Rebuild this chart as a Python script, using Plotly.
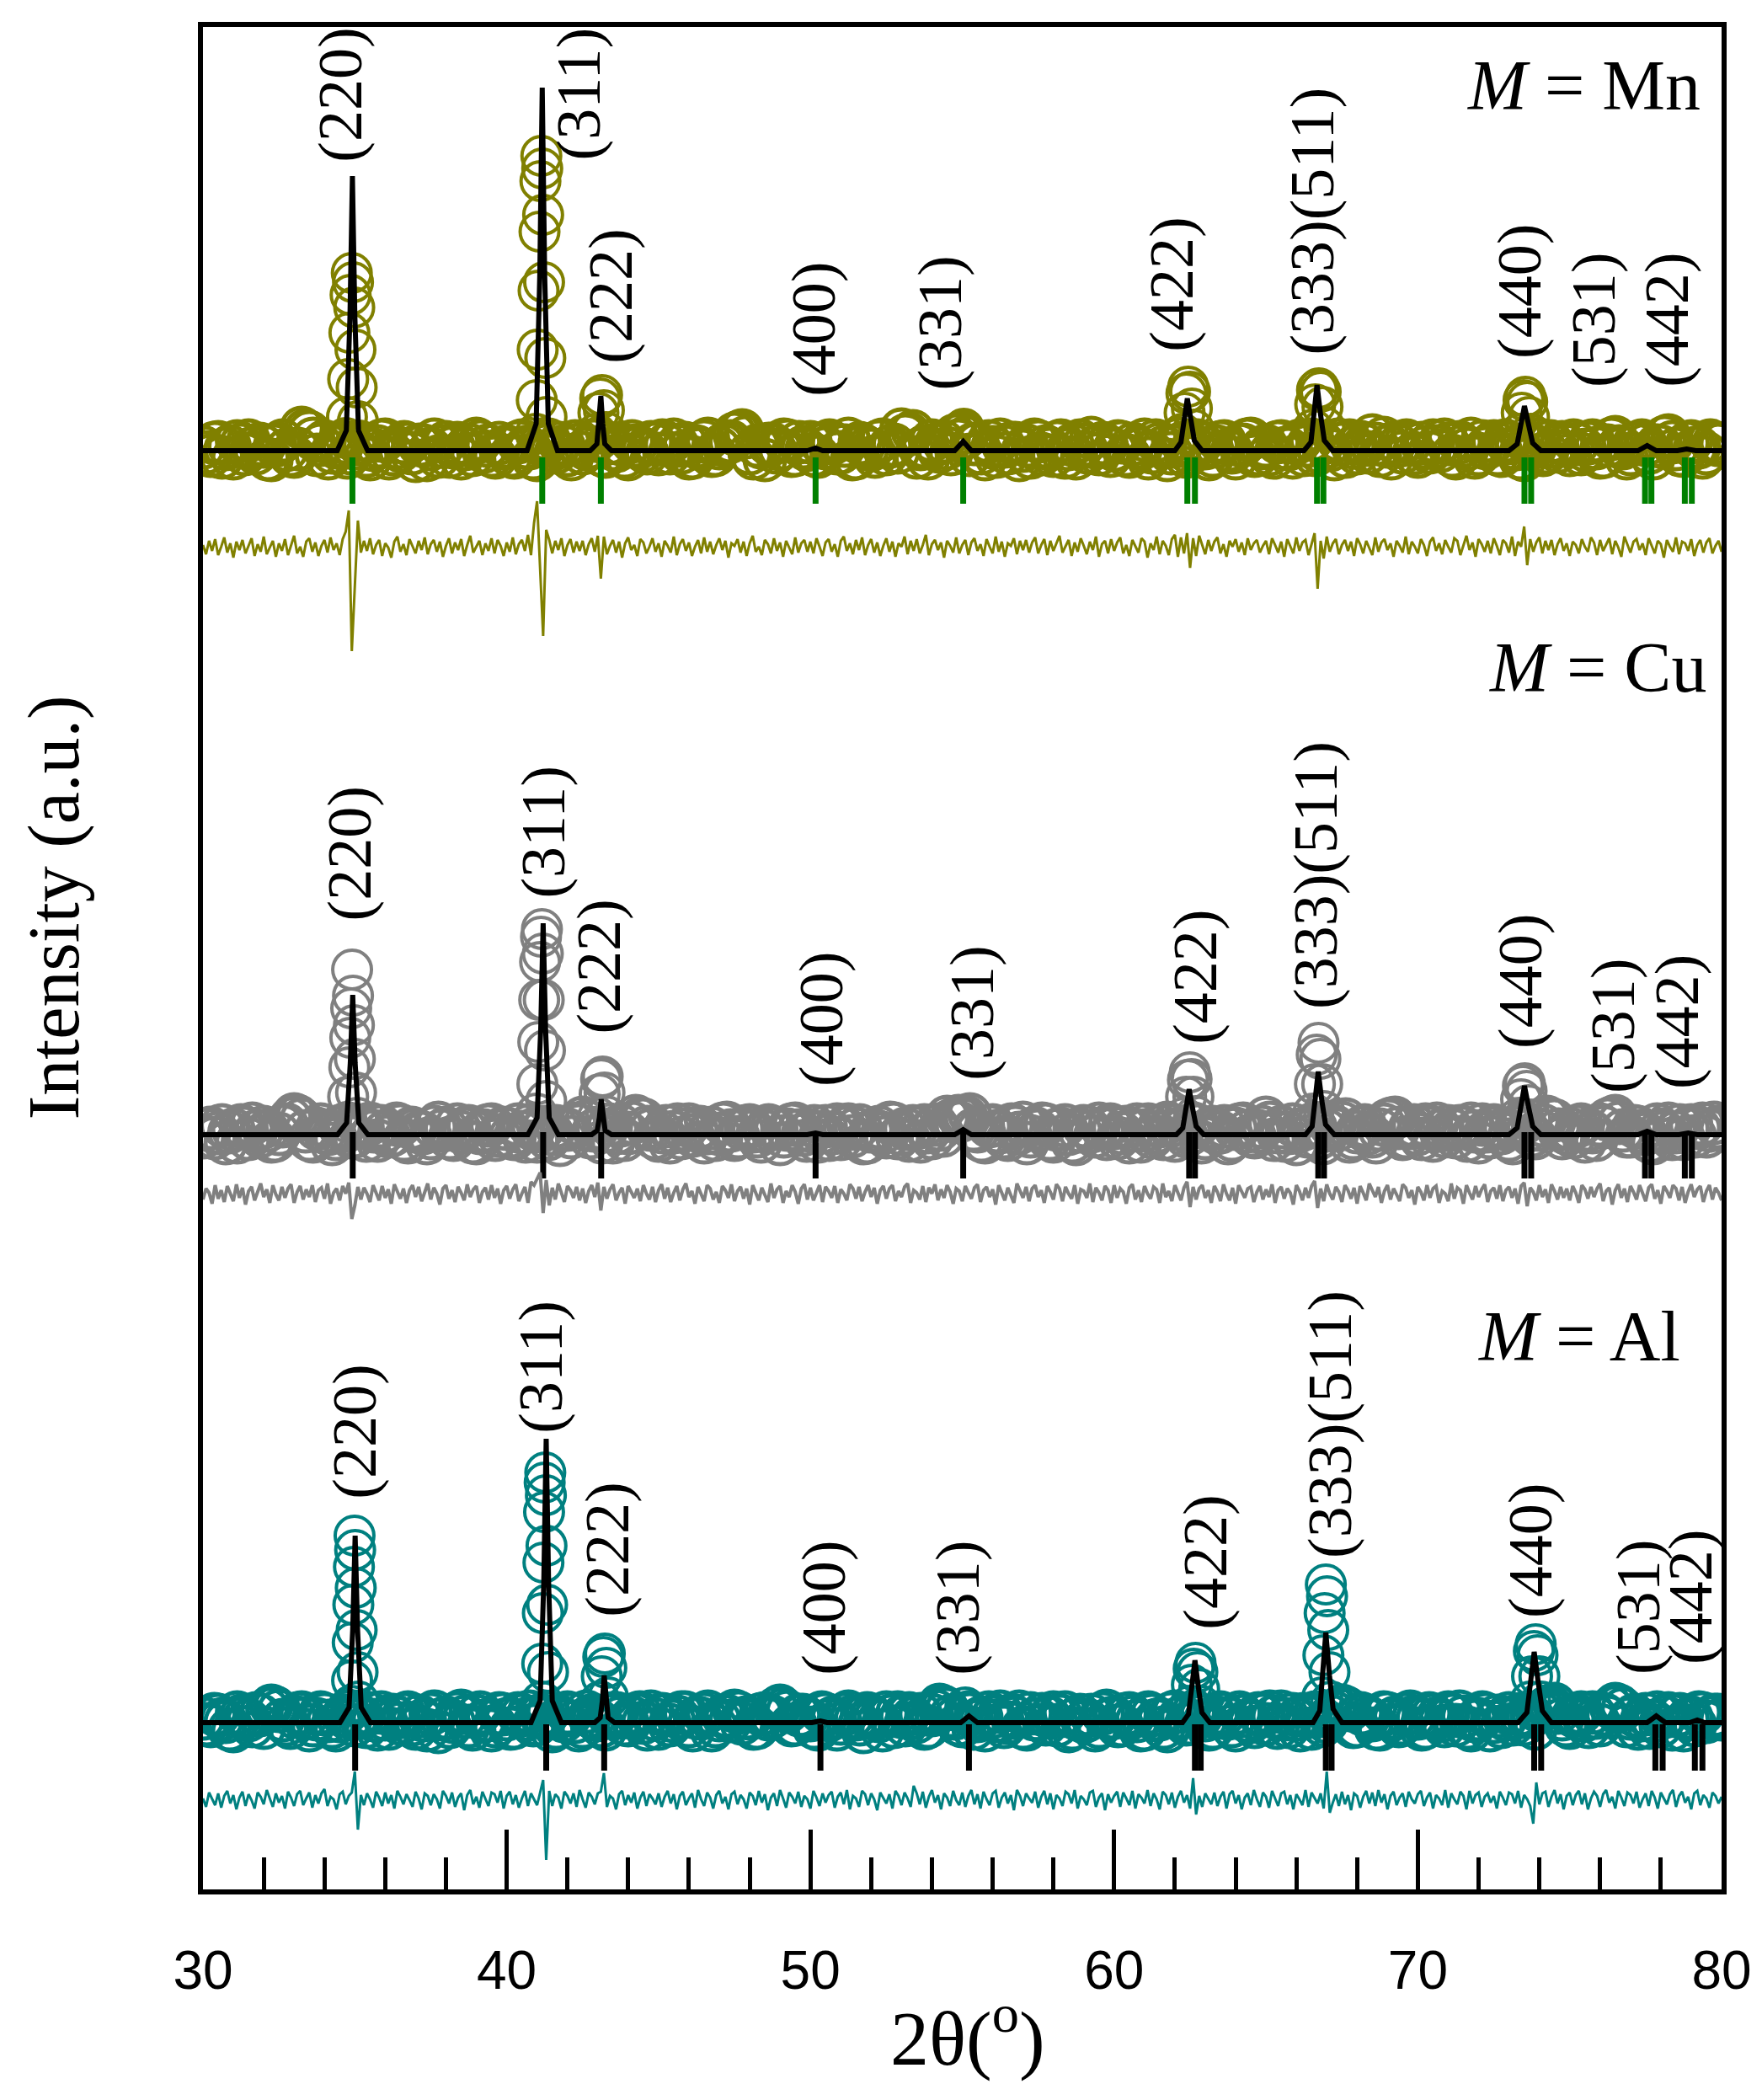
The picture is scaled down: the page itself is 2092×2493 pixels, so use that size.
import numpy as np
import plotly.graph_objects as go

OLIVE = "#808000"
GRAY = "#808080"
TEAL = "#008080"
GREEN = "#008000"

SAMPLES = ["Mn", "Cu", "Al"]
HKL = ["(220)", "(311)", "(222)", "(400)", "(331)", "(422)", "(333)(511)", "(440)", "(531)", "(442)"]

# Bragg positions (2theta, deg); doublets are Ka1/Ka2
TICKS_MN = [34.92, 41.17, 43.10, 50.17, 55.03, 62.41, 62.66, 66.68, 66.89, 73.51, 73.73, 77.48, 77.69, 78.79, 79.02]
TICKS_CU = [34.93, 41.20, 43.11, 50.17, 55.03, 62.47, 62.66, 66.72, 66.91, 73.51, 73.73, 77.48, 77.69, 78.79, 79.02]
TICKS_AL = [35.01, 41.30, 43.21, 50.33, 55.22, 62.66, 62.85, 66.97, 67.16, 73.83, 74.06, 77.82, 78.06, 79.12, 79.37]

# calculated profile (a.u. above the panel baseline)
CALC_X_MN = [30.0,
             34.42, 34.72, 34.84, 34.92, 35.00, 35.12, 35.42,
             40.67, 40.97, 41.09, 41.17, 41.25, 41.37, 41.67,
             42.75, 42.97, 43.04, 43.10, 43.16, 43.23, 43.45,
             49.90, 50.17, 50.40,
             54.75, 55.03, 55.30,
             62.00, 62.20, 62.29, 62.41, 62.53, 62.64, 62.90,
             66.25, 66.48, 66.57, 66.68, 66.80, 66.92, 67.20,
             73.00, 73.27, 73.37, 73.51, 73.65, 73.78, 74.05,
             77.25, 77.55, 77.85,
             78.55, 78.85, 79.15,
             80.0]
CALC_Y_MN = [0,
             0, 24, 160, 326, 160, 24, 0,
             0, 32, 210, 431, 210, 32, 0,
             0, 8, 32, 65, 32, 8, 0,
             0, 3, 0,
             0, 11, 0,
             0, 10, 34, 62, 36, 12, 0,
             0, 10, 40, 78, 42, 12, 0,
             0, 8, 28, 53, 30, 9, 0,
             0, 6, 0,
             0, 2, 0,
             0]

CALC_X_CU = [30.0,
             34.43, 34.73, 34.85, 34.93, 35.01, 35.13, 35.43,
             40.70, 41.00, 41.12, 41.20, 41.28, 41.40, 41.70,
             42.80, 42.98, 43.05, 43.11, 43.17, 43.24, 43.45,
             49.90, 50.17, 50.40,
             54.75, 55.03, 55.30,
             62.05, 62.26, 62.35, 62.47, 62.59, 62.70, 62.95,
             66.30, 66.52, 66.61, 66.72, 66.84, 66.96, 67.25,
             73.00, 73.27, 73.37, 73.51, 73.65, 73.78, 74.05,
             77.25, 77.55, 77.85,
             78.60, 78.90, 79.20,
             80.0]
CALC_Y_CU = [0,
             0, 14, 85, 166, 85, 14, 0,
             0, 20, 125, 251, 125, 20, 0,
             0, 5, 20, 42, 20, 5, 0,
             0, 2, 0,
             0, 6, 0,
             0, 8, 28, 54, 30, 10, 0,
             0, 10, 38, 75, 40, 12, 0,
             0, 8, 30, 58, 32, 10, 0,
             0, 4, 0,
             0, 2, 0,
             0]

CALC_X_AL = [30.0,
             34.51, 34.81, 34.93, 35.01, 35.09, 35.21, 35.51,
             40.80, 41.10, 41.22, 41.30, 41.38, 41.50, 41.80,
             42.90, 43.08, 43.15, 43.21, 43.27, 43.34, 43.55,
             50.05, 50.33, 50.55,
             54.95, 55.22, 55.50,
             62.25, 62.45, 62.54, 62.66, 62.78, 62.89, 63.15,
             66.55, 66.77, 66.86, 66.97, 67.09, 67.21, 67.50,
             73.30, 73.59, 73.69, 73.83, 73.97, 74.10, 74.40,
             77.55, 77.85, 78.15,
             78.95, 79.20, 79.45,
             80.0]
CALC_Y_AL = [0,
             0, 18, 110, 222, 110, 18, 0,
             0, 26, 165, 337, 165, 26, 0,
             0, 6, 26, 56, 26, 6, 0,
             0, 2, 0,
             0, 8, 0,
             0, 10, 38, 74, 40, 12, 0,
             0, 14, 52, 107, 56, 16, 0,
             0, 12, 42, 84, 46, 14, 0,
             0, 8, 0,
             0, 3, 0,
             0]

# observed background points, 30-80 deg every 0.25 deg
OBS_BAND_MN = [4, -6, 10, 2, -9, 7, 12, -3, 5, -11, 8, 1, -7, 27, 22, -5, 11, -2, 6, -8,
               3, 9, -10, 5, 13, -4, 0, 8, -12, 6, 2, -7, 10, 4, -9, 7, 14, -1, -6, 9,
               5, -8, 12, 3, -11, 6, 1, 9, -5, 11, -3, 4, 14, -7, 2, 8, -10, 6, 0, 10,
               -4, 7, 13, -2, -9, 5, 11, -6, 3, 9, 20, 24, -3, 6, -11, 8, 2, 12, -5, 4,
               10, -7, 3, 9, -2, 14, -9, 6, 1, 11, -4, 7, 25, 20, -8, 5, 12, -1, 3, 18,
               22, -5, 8, -10, 4, 13, -3, 9, 0, -8, 11, 5, -6, 12, 2, -9, 7, 15, -4, 6,
               1, 10, -7, 4, 13, -2, 8, -11, 5, 9, -3, 12, 3, -6, 10, 1, -9, 7, 14, -4,
               6, -8, 11, 2, 9, -5, 13, -1, 4, -10, 8, 12, -3, 7, 18, -6, 5, 10, -2, 9,
               -7, 4, 12, 0, 8, -9, 6, 14, -4, 3, 11, -6, 9, 2, -11, 7, 13, -2, 5, 10,
               -5, 8, 1, 12, -8, 6, 16, 3, -4, 10, 7, -9, 5, 18, 2, -6, 11, 4, -3, 9,
               8]
OBS_BAND_CU = [-3, 8, 2, -10, 6, 11, -5, 4, 9, -8, 1, 12, 24, 18, -6, 7, 3, -11, 10, 5,
               -2, 9, 13, -7, 4, 0, 11, -9, 6, 2, -4, 14, 8, -6, 3, 10, -10, 5, 12, -1,
               7, -5, 3, 11, -8, 9, 1, -12, 6, 13, 20, -3, 8, 4, -9, 11, 2, 22, 18, 6,
               -7, 10, 3, -4, 12, 5, -9, 8, 1, 14, -6, 7, 11, -2, 4, 9, -11, 6, 13, 0,
               5, -8, 10, 2, -5, 12, 7, -10, 4, 9, -3, 13, 1, -7, 8, 11, -4, 6, 21, 16,
               19, 24, 4, -9, 11, 3, -6, 9, 14, -2, 5, 12, -8, 7, 1, -11, 10, 4, 13, -5,
               8, 2, -9, 12, 5, -3, 10, 14, -7, 6, 1, 11, -4, 9, 3, -10, 7, 13, -1, 4,
               20, -6, 9, 2, -11, 7, 12, -4, 5, 10, 14, -8, 3, 11, -2, 6, 17, 20, -5, 8,
               1, 12, -7, 5, 10, -3, 8, 13, -9, 4, 11, 2, -6, 9, 14, -1, 6, 21, 17, -4,
               7, 10, -8, 3, 12, 18, 22, 5, -2, 9, 1, -10, 6, 13, 3, -5, 11, 8, -2, 14,
               6]
OBS_BAND_AL = [5, -4, 9, 1, -10, 8, 3, 11, -6, 20, 14, -2, 7, 12, -9, 4, 10, -5, 2, 13,
               -3, 6, 11, -8, 4, 9, -1, 12, -7, 3, 10, -11, 6, 1, 14, -4, 8, 2, -9, 11,
               4, -6, 9, 13, -2, 5, -10, 7, 12, 1, -5, 8, 3, -8, 11, 6, -3, 10, 0, 13,
               -7, 9, 2, 12, -4, 6, 10, -9, 3, 8, 14, -1, 5, -6, 11, 7, 20, 13, -2, 9,
               3, -8, 10, 6, -1, 13, 4, -11, 8, 2, 12, -5, 7, 11, 1, -7, 9, 21, 16, 5,
               -4, 10, 2, -9, 7, 13, 0, 6, -6, 11, 4, -2, 12, 8, -10, 5, 1, 9, -5, 14,
               6, -3, 11, 2, -8, 9, 4, -10, 13, 7, -1, 10, 3, -6, 12, 5, -9, 8, 1, 11,
               -2, 7, 13, -5, 4, 10, -7, 8, 1, 12, 20, 15, -4, 9, 3, -8, 11, 6, -1, 13,
               5, -6, 9, 2, 12, -3, 7, -9, 4, 10, 1, -5, 11, 6, -2, 8, 13, 18, 22, 4,
               -6, 9, 3, 12, -3, 7, 22, 16, 5, -7, 10, 2, -4, 11, 8, -9, 6, 12, 1, 9,
               4]

# observed background points in between, 30.125-79.875 deg every 0.25 deg
OBS_BAND2_MN = [-2, 9, -8, 5, 11, -4, 3, 8, -10, 6, 12, -5, 2, 24, 14, 7, -9, 4, 10, -3,
                8, -6, 1, 12, -9, 4, 10, -3, 7, -11, 13, 5, -7, 9, 2, -5, 11, 6, -8, 3,
                -6, 10, 4, -9, 8, 13, -2, 5, -10, 7, 2, 12, -5, 9, 0, -7, 11, 4, -3, 8,
                12, -3, 6, 9, -8, 2, 14, -5, 7, 11, 22, 16, -9, 4, 8, -2, 13, -6, 10, 1,
                -5, 8, 12, -3, 6, -10, 9, 3, -7, 13, 5, -2, 18, 23, 2, -9, 7, 11, -4, 12,
                16, 8, -3, 11, -7, 5, 9, -11, 6, 13, -4, 2, 10, -8, 7, 12, -2, 4, 9, -6,
                11, -5, 8, 2, -9, 12, 4, -3, 14, -7, 6, 9, -10, 5, 11, -2, 7, 13, -6, 3,
                -4, 10, 3, -8, 12, 6, -5, 9, 1, 13, -7, 4, 10, -2, 8, 15, -9, 6, 12, -3,
                9, -2, 5, 13, -6, 10, 2, -8, 11, 7, -4, 12, 3, -9, 8, 5, -5, 11, -1, 6,
                12, -4, 9, 3, -7, 14, 5, -9, 8, 12, -2, 6, 16, 10, -5, 9, 3, -8, 12, 7]
OBS_BAND2_CU = [6, -4, 11, 3, -9, 8, 13, -2, 5, -7, 10, 19, 22, 4, -8, 12, 1, -5, 9, -3,
                11, -7, 4, 10, -2, 13, -6, 8, 3, -10, 9, 5, -4, 12, 7, -9, 2, 11, -6, 8,
                -2, 12, -8, 6, 4, -5, 10, 7, -3, 11, 16, 5, -9, 12, 2, -6, 14, 19, 9, -4,
                3, -9, 12, 6, -1, 9, 2, -6, 13, 5, -3, 10, 4, -8, 11, 7, -2, 12, 5, -7,
                10, 3, -6, 12, 8, -2, 11, -9, 5, 2, 14, -4, 7, 10, -8, 3, 12, -1, 17, 22,
                21, 6, -7, 10, 4, -3, 12, 2, -10, 8, 13, -5, 6, 11, -8, 4, 9, -2, 7, 12,
                -4, 9, 5, -8, 12, 3, -5, 11, 7, -2, 13, -9, 6, 2, 10, -6, 12, 4, -3, 9,
                14, 3, -7, 12, 5, -2, 9, -10, 11, 6, 18, -4, 8, 2, -9, 12, 19, 8, -3, 11,
                -5, 8, 13, -2, 6, 10, -7, 4, 12, -3, 9, 7, -10, 13, 5, -4, 11, 18, 6, 2,
                -3, 12, 6, -6, 9, 20, 14, -2, 10, 4, -8, 12, 3, -5, 11, 7, -2, 13, 5, 9]
OBS_BAND2_AL = [-2, 10, 4, -8, 12, 6, -4, 9, 16, 18, 3, -6, 11, 5, -3, 12, 2, -9, 8, 6,
                9, -5, 3, 12, -7, 6, 10, -2, 8, -9, 13, 4, -5, 11, 7, -8, 12, 3, -4, 10,
                -7, 11, 4, -3, 9, 12, -6, 2, 10, -9, 13, 5, -4, 8, 11, -2, 6, 12, -8, 4,
                10, -3, 7, 12, -9, 5, 13, -4, 8, 2, 12, 6, -7, 10, 4, 17, 16, -3, 9, 5,
                -6, 12, 3, -8, 10, 7, -2, 11, 5, -9, 8, 12, -3, 6, 10, -5, 14, 19, 8, -2,
                11, -7, 6, 12, 2, -5, 9, 13, -8, 4, 10, 6, -3, 12, -7, 9, 3, -9, 11, 5,
                -4, 10, 7, -9, 12, 3, -6, 11, 5, -2, 13, 8, -8, 6, 10, -4, 12, 2, -5, 9,
                13, -6, 4, 10, -9, 7, 12, -3, 8, 16, 18, -5, 11, 6, -7, 12, 3, -4, 10, 7,
                -8, 11, 5, -4, 9, 13, -6, 2, 12, -9, 8, 4, -2, 10, 7, -7, 15, 20, 12, -3,
                8, 12, -5, 6, 10, 18, 20, -4, 9, 3, -6, 12, 7, -8, 10, 4, -3, 11, 6, 9]

# observed points on the reflections
OBS_PEAK_X_MN = [34.70, 34.74, 34.78, 34.82, 34.86, 34.90, 34.94, 34.98, 35.02, 35.06, 35.10, 35.14,
                 40.96, 40.99, 41.02, 41.05, 41.08, 41.11, 41.14, 41.17, 41.20, 41.23, 41.27, 41.31,
                 42.95, 43.02, 43.08, 43.14, 43.20, 43.27,
                 54.95, 55.05,
                 62.25, 62.32, 62.38, 62.44, 62.50, 62.56, 62.62,
                 66.55, 66.62, 66.68, 66.74, 66.80, 66.86, 66.92,
                 73.35, 73.42, 73.48, 73.54, 73.60, 73.66, 73.72]
OBS_PEAK_Y_MN = [15, 40, 85, 140, 185, 211, 200, 170, 120, 75, 35, 12,
                 20, 60, 120, 190, 260, 320, 350, 335, 280, 200, 110, 40,
                 20, 45, 62, 66, 48, 22,
                 20, 26,
                 20, 45, 68, 76, 70, 50, 25,
                 25, 55, 72, 74, 70, 52, 28,
                 20, 45, 60, 64, 58, 40, 20]

OBS_PEAK_X_CU = [34.74, 34.78, 34.82, 34.85, 34.88, 34.91, 34.94, 34.97, 35.00, 35.04, 35.08,
                 40.98, 41.01, 41.04, 41.07, 41.10, 41.13, 41.16, 41.19, 41.22, 41.26, 41.30,
                 43.00, 43.06, 43.11, 43.16, 43.22, 43.28,
                 54.95, 55.10,
                 62.30, 62.37, 62.43, 62.49, 62.55, 62.61, 62.68,
                 66.55, 66.61, 66.67, 66.73, 66.79, 66.85, 66.91,
                 73.33, 73.40, 73.46, 73.52, 73.58, 73.64, 73.71]
OBS_PEAK_Y_CU = [15, 45, 80, 115, 150, 196, 165, 130, 90, 50, 20,
                 25, 60, 110, 160, 205, 235, 244, 215, 160, 100, 40,
                 20, 48, 66, 69, 50, 22,
                 15, 18,
                 20, 45, 65, 74, 66, 45, 22,
                 25, 60, 95, 109, 90, 60, 28,
                 20, 42, 58, 61, 52, 35, 18]

OBS_PEAK_X_AL = [34.88, 34.91, 34.93, 34.95, 34.97, 34.99, 35.01, 35.03, 35.06, 35.09, 35.12,
                 41.15, 41.17, 41.19, 41.21, 41.23, 41.25, 41.27, 41.29, 41.31, 41.33, 41.36,
                 43.08, 43.13, 43.18, 43.23, 43.28, 43.34,
                 55.10, 55.25,
                 62.50, 62.56, 62.62, 62.68, 62.74, 62.80, 62.86,
                 66.85, 66.89, 66.93, 66.97, 67.01, 67.05, 67.09, 67.14,
                 73.70, 73.76, 73.82, 73.88, 73.94, 74.00, 74.06]
OBS_PEAK_Y_AL = [20, 50, 95, 140, 185, 222, 205, 160, 110, 60, 25,
                 25, 70, 130, 190, 250, 285, 297, 270, 210, 140, 60,
                 25, 55, 78, 82, 65, 30,
                 18, 14,
                 20, 45, 64, 71, 60, 40, 20,
                 30, 80, 130, 164, 150, 110, 60, 25,
                 25, 55, 85, 93, 80, 55, 25]

# difference (obs - calc), 30-80 deg every 0.1 deg
DIFF_MN = [4, -7, 9, -3, 11, -8, 2, 13, -5, 6, -11, 8, -2, 10, -6, 3, 12, -9, 5, -4, 14, -7, 1, 9, -10,
           6, -3, 11, -8, 4, 15, -6, 2, -10, 8, 12, -4, 7, -9, 3, 10, -5, 13, -2, 6, -8, 11, 20, 45, -122,
           -45, 33, -5, 9, -3, 12, -7, 4, 10, -9, 6, 1, -11, 8, 14, -4, 5, -8, 11, 2, -6, 9, -2, 13, -7,
           5, 10, -4, 8, -10, 3, 12, -6, 7, -2, 11, -9, 4, 15, -5, 2, 9, -8, 6, -3, 12, -6, 10, 3, -9,
           7, -4, 13, -7, 5, 10, -3, 16, -8, 30, 56, -30, -104, 22, 10, -6, 9, -2, 12, -9, 4, 11, -5, 8, -3,
           9, -8, 5, 12, -4, 15, -36, 14, -7, 3, 10, -5, 8, -11, 6, 13, -2, 4, -9, 11, 7, -6, 2, 12, -4,
           6, -10, 9, 3, -5, 14, -8, 5, 11, -3, 7, -9, 2, 10, -6, 13, -4, 8, -7, 4, 12, -2, 9, -11, 6,
           3, 11, -5, 8, -9, 6, 15, -4, 2, -8, 10, 5, -6, 12, -3, 7, -10, 9, 1, -7, 13, -5, 6, 10, -4,
           8, -6, 12, 2, -9, 7, 11, -4, 5, -10, 9, 14, -3, 6, -7, 10, -2, 13, -8, 4, 11, -5, 7, -9, 3,
           12, -4, 8, -10, 6, 2, 14, -7, 9, -3, 11, -6, 4, 16, -8, 5, 10, -2, 7, -11, 9, 3, -5, 13, -6,
           4, 10, -8, 7, 12, -3, 5, -9, 11, 2, -6, 14, -4, 8, -10, 6, 3, 12, -7, 9, -2, 10, -5, 7, 13,
           -6, 4, 11, -8, 9, -3, 6, 15, -5, 2, 10, -9, 7, -4, 12, 3, -7, 8, -2, 14, -10, 5, 9, -6, 11,
           -3, 7, 13, -6, 4, -9, 10, 2, -5, 12, 8, -11, 6, -2, 14, -7, 9, 3, -8, 11, 16, -10, 13, -6, 18,
           -23, 12, -9, 15, 4, -7, 10, -3, 8, 13, -6, 5, -10, 9, 2, 11, -4, 7, -8, 12, -2, 6, 10, -5, 3,
           9, -7, 12, 4, -5, 8, -10, 11, 2, -6, 13, -3, 7, 10, -8, 5, 18, -48, 9, -12, 14, -4, 6, 11, -7,
           4, 10, -3, 8, -9, 12, 5, -6, 9, 1, -8, 13, -4, 7, 11, -2, 6, -10, 9, 3, -5, 14, -7, 8, 2,
           -6, 11, 4, -9, 8, 13, -3, 6, -7, 10, 2, -5, 12, 9, -8, 4, 15, -2, 7, -10, 11, 5, -4, 9, -6,
           12, 3, -8, 10, 6, -5, 14, -9, 8, 2, 26, -20, 11, -4, 7, 13, -6, 9, -2, 10, -8, 5, 12, -3, 6,
           -9, 8, 4, -6, 11, 2, -4, 13, 7, -8, 10, -3, 5, 12, -7, 9, 1, -10, 14, 4, -5, 8, 11, -2, 6,
           -8, 12, 3, -6, 9, 5, -11, 10, 2, -4, 13, -7, 8, 6, -3, 11, -9, 4, 10, -5, 7, 12, -6, 3, 9,
           -4]
DIFF_CU = [-5, 8, 3, -10, 12, -4, 6, -8, 11, 2, -7, 13, -3, 9, -11, 5, 10, -6, 4, 14, -2, 7, -9, 12, 1,
           -6, 10, -3, 8, 13, -9, 4, 11, -5, 7, -2, 12, -8, 6, 9, -4, 14, -10, 3, 8, -6, 11, 2, 15, -28,
           -12, 10, -5, 9, 2, -8, 12, 4, -6, 11, -3, 7, -10, 13, 5, -4, 8, -9, 6, 12, -2, 10, -7, 3, 14,
           -5, 9, 2, -11, 8, 12, -4, 6, -8, 10, 3, -6, 13, -2, 7, 11, -9, 4, 9, -5, 12, -3, 8, -10, 6,
           11, -4, 7, 13, -7, 2, 10, -9, 16, 12, 20, 27, -21, 18, -12, 9, -5, 14, 3, -8, 11, 6, -3, 10, -6,
           8, -9, 5, 12, -2, 15, -18, 10, -4, 7, 13, -6, 3, 9, -10, 11, 4, -3, 8, -7, 12, 2, -5, 10, -8,
           6, 13, -4, 9, -8, 3, 11, -6, 7, 14, -2, 5, -10, 10, 2, -7, 12, 8, -5, 4, -9, 11, 6, -3, 13,
           -7, 5, 10, -4, 8, -11, 12, 3, -6, 9, 1, -8, 14, -3, 7, 11, -9, 5, -2, 12, 4, -10, 8, 13, -5,
           9, -6, 3, 12, -8, 10, 5, -3, 11, -9, 7, 2, -6, 13, 8, -4, 10, -7, 4, 12, -2, 9, -10, 6, 11,
           -4, 8, 12, -7, 5, -2, 10, 14, -9, 6, 3, -5, 11, -8, 9, 2, 13, -6, 7, -3, 12, 4, -10, 8, 5,
           -7, 11, 3, -4, 9, 13, -8, 6, 10, -2, 7, -11, 12, 4, -6, 9, 1, -9, 14, 5, -3, 10, -7, 8, 12,
           -2, 6, -9, 11, 4, -5, 13, 8, -7, 10, 2, -4, 12, -10, 7, 5, -3, 14, -8, 9, 3, -6, 11, 6, -9,
           12, -3, 8, 4, -10, 9, 13, -5, 6, -8, 11, 2, -4, 10, 7, -9, 14, -2, 5, -7, 12, 3, -6, 9, 16,
           -14, 10, -5, 8, 12, -3, 6, -9, 11, 4, -7, 13, 2, -6, 9, -10, 12, 5, -3, 8, 10, -8, 4, 11, -5,
           7, -2, 13, -9, 6, 10, -4, 8, 3, -11, 12, 5, -6, 9, -3, 11, 17, -15, 8, -7, 13, 2, -5, 10, 4,
           -8, 12, 6, -4, 9, -10, 11, 3, -6, 14, 7, -2, 10, -9, 5, 12, -5, 8, 1, -7, 13, 9, -3, 6, -11,
           10, 4, -6, 12, -3, 8, 11, -9, 5, 2, -7, 14, -4, 9, 6, -10, 12, 3, -5, 11, -2, 7, 13, -8, 5,
           9, -4, 12, -7, 6, 10, -3, 8, -10, 11, 15, -13, 9, 4, -6, 12, -2, 7, -9, 13, 5, -5, 10, -3, 8,
           -6, 11, 3, -9, 12, 7, -4, 10, -2, 8, 14, -7, 5, 9, -11, 6, 13, -3, 8, -8, 11, 4, -5, 12, 2,
           -7, 9, 13, -4, 6, -10, 11, 5, -3, 12, 8, -6, 10, -9, 4, 13, -2, 7, 11, -8, 5, 12, -5, 9, 3,
           -6]
DIFF_AL = [3, -7, 10, 2, -5, 9, -8, 6, 12, -3, 7, -10, 4, 11, -6, 8, 1, -9, 10, 5, -4, 13, 2, -7, 9,
           -2, 6, -9, 11, 4, -6, 8, 12, -5, 3, 10, -8, 7, -3, 9, 14, -6, 5, 2, -10, 8, 11, -4, 6, 10,
           35, -34, 7, -5, 9, 2, -8, 11, 4, -6, 10, -3, 7, -9, 12, 5, -4, 8, 1, -7, 11, 3, -10, 9, 6,
           -5, 8, 2, -9, 12, 6, -3, 10, -7, 4, 9, -11, 7, 13, -4, 5, -8, 11, 3, -6, 10, 8, -2, 12, -9,
           6, 11, -4, 7, -8, 3, 12, -6, 9, 2, -5, 10, 25, -70, 12, -6, 8, 4, -9, 11, 6, -3, 9, -7, 13,
           2, -8, 10, 5, -4, 9, 11, 33, -7, 6, 3, -10, 8, 12, -5, 7, -2, 10, -9, 4, 11, -6, 8, 3, -4,
           9, -7, 5, 12, -3, 8, -10, 6, 11, -5, 3, 9, -8, 13, 2, -6, 10, 4, -9, 7, 12, -3, 5, -10, 8,
           11, -4, 7, 2, -9, 10, 6, -5, 12, -2, 8, -11, 4, 9, -6, 13, 3, -8, 10, 5, -3, 11, -7, 6, 2,
           -9, 12, 4, -6, 9, -2, 7, 11, -8, 5, 10, -4, 13, -10, 6, 3, -7, 12, 8, -5, 9, 2, -11, 10, 4,
           -3, 8, -9, 12, 6, -5, 10, 3, -7, 18, 9, -4, 11, -8, 5, 13, -2, 7, -10, 9, 4, -6, 12, 1, -5,
           10, -7, 6, 13, -4, 8, -9, 11, 2, -5, 9, 12, -8, 4, 10, -3, 7, -11, 13, 6, -6, 9, 3, -2, 11,
           -8, 5, 12, -4, 9, -10, 7, 3, -6, 11, 8, -3, 13, -9, 6, 2, -5, 10, 12, -7, 4, 9, -11, 8, -2,
           6, 11, -7, 10, 3, -5, 12, -9, 8, 4, -3, 13, -6, 9, 2, -10, 11, 7, -4, 10, -8, 5, 12, -2, 7,
           -9, 27, -16, 6, -7, 9, 3, -4, 10, -6, 5, 11, -9, 8, 12, -3, 7, -10, 4, 9, -5, 13, 2, -7, 10,
           5, -8, 12, 3, -6, 9, 11, -4, 7, -10, 8, 2, -5, 13, -7, 10, 4, -3, 9, -9, 35, -14, -2, 8, -6,
           11, -4, 7, -11, 9, 6, -8, 5, 12, -3, 10, -6, 13, -2, 8, -10, 6, 11, -5, 4, 9, -7, 11, 2, -3,
           8, 12, -6, 4, 10, -9, 7, 3, -5, 13, -8, 9, 2, -4, 11, 6, -10, 12, -3, 7, 10, -7, 5, 9, -2,
           6, -9, 11, 4, -5, 10, 8, -3, 12, -8, 7, 2, -6, -27, 22, -4, 9, 11, -7, 5, 13, -3, 8, -10, 6,
           10, -5, 7, 12, -4, 9, -10, 3, 11, 6, -7, 8, 13, -2, 5, -9, 12, 4, -6, 10, 7, -3, 11, -8, 2,
           9, -6, 12, 4, -9, 10, 3, -4, 8, 13, -7, 6, 11, -2, 5, -10, 9, 12, -5, 7, 3, -8, 10, 6, -3,
           5]

# hkl label anchor points (2theta, plot units)
LABEL_X_MN = [34.90, 42.77, 43.80, 50.49, 54.64, 62.27, 66.90, 73.73, 76.17, 78.58]
LABEL_Y_MN = [2130, 2132, 1891, 1852, 1859, 1905, 1980, 1897, 1863, 1863]
LABEL_X_CU = [35.20, 41.58, 43.41, 50.74, 55.70, 63.05, 67.02, 73.76, 76.81, 78.92]
LABEL_Y_CU = [1229, 1255, 1095, 1033, 1040, 1083, 1204, 1078, 1025, 1030]
LABEL_X_AL = [35.37, 41.50, 43.69, 50.82, 55.23, 63.38, 67.49, 74.09, 77.64, 79.36]
LABEL_Y_AL = [543, 620, 403, 334, 334, 388, 552, 402, 335, 347]

# vertical stacking of the three patterns (plot units)
BASE = {"Mn": 1708, "Cu": 896, "Al": 198}
DIFF_BASE = {"Mn": 1592, "Cu": 824, "Al": 105}
TICK_TOP = {"Mn": 1700, "Cu": 899, "Al": 196}
TICK_LEN = 55
NAME_POS = {"Mn": (79.36, 2130), "Cu": (79.55, 1439), "Al": (78.69, 645)}

panels = [
    dict(name="Mn", color=OLIVE, tick_color=GREEN, diff_w=3,
         ticks=TICKS_MN, cx=CALC_X_MN, cy=CALC_Y_MN, band=OBS_BAND_MN, band2=OBS_BAND2_MN,
         px=OBS_PEAK_X_MN, py=OBS_PEAK_Y_MN, diff=DIFF_MN, lx=LABEL_X_MN, ly=LABEL_Y_MN),
    dict(name="Cu", color=GRAY, tick_color="black", diff_w=4,
         ticks=TICKS_CU, cx=CALC_X_CU, cy=CALC_Y_CU, band=OBS_BAND_CU, band2=OBS_BAND2_CU,
         px=OBS_PEAK_X_CU, py=OBS_PEAK_Y_CU, diff=DIFF_CU, lx=LABEL_X_CU, ly=LABEL_Y_CU),
    dict(name="Al", color=TEAL, tick_color="black", diff_w=3,
         ticks=TICKS_AL, cx=CALC_X_AL, cy=CALC_Y_AL, band=OBS_BAND_AL, band2=OBS_BAND2_AL,
         px=OBS_PEAK_X_AL, py=OBS_PEAK_Y_AL, diff=DIFF_AL, lx=LABEL_X_AL, ly=LABEL_Y_AL),
]

SERIF = "Liberation Serif, Times New Roman, serif"

fig = go.Figure()
annotations = []

for p in panels:
    b = BASE[p["name"]]
    # observed background band
    bx = np.concatenate([np.linspace(30, 80, len(p["band"])),
                         np.linspace(30.125, 79.875, len(p["band2"]))])
    by = np.concatenate([p["band"], p["band2"]]) + b
    fig.add_trace(go.Scatter(x=bx, y=by, mode="markers",
                             marker=dict(symbol="circle-open", size=48, color=p["color"],
                                         line=dict(width=5, color=p["color"]))))
    # observed points on the reflections
    fig.add_trace(go.Scatter(x=p["px"], y=np.array(p["py"]) + b, mode="markers",
                             marker=dict(symbol="circle-open", size=46, color=p["color"],
                                         line=dict(width=4, color=p["color"]))))
    # calculated
    fig.add_trace(go.Scatter(x=p["cx"], y=np.array(p["cy"]) + b, mode="lines",
                             line=dict(color="black", width=6)))
    # Bragg positions
    tx, ty = [], []
    top = TICK_TOP[p["name"]]
    for t in p["ticks"]:
        tx += [t, t, None]
        ty += [top, top - TICK_LEN, None]
    fig.add_trace(go.Scatter(x=tx, y=ty, mode="lines",
                             line=dict(color=p["tick_color"], width=7)))
    # difference
    dx = np.linspace(30, 80, len(p["diff"]))
    fig.add_trace(go.Scatter(x=dx, y=np.array(p["diff"]) + DIFF_BASE[p["name"]], mode="lines",
                             line=dict(color=p["color"], width=p["diff_w"])))
    # hkl labels
    for lab, x, y in zip(HKL, p["lx"], p["ly"]):
        annotations.append(dict(x=x, y=y, xref="x", yref="y", text=lab, showarrow=False,
                                textangle=-90, xanchor="center", yanchor="middle", xshift=-14,
                                font=dict(family=SERIF, size=74, color="black")))
    nx, ny = NAME_POS[p["name"]]
    annotations.append(dict(x=nx, y=ny, xref="x", yref="y",
                            text="<i>M</i> = " + p["name"], showarrow=False,
                            xanchor="right", yanchor="middle", yshift=12,
                            font=dict(family=SERIF, size=84, color="black")))

annotations.append(dict(x=-0.098, y=1166, xref="paper", yref="y", text="Intensity (a.u.)",
                        showarrow=False, textangle=-90, xanchor="center", yanchor="middle",
                        font=dict(family=SERIF, size=86, color="black")))
annotations.append(dict(x=0.5036, y=-0.077, xref="paper", yref="paper",
                        text="2θ(<sup>o</sup>)", showarrow=False,
                        xanchor="center", yanchor="middle",
                        font=dict(family=SERIF, size=92, color="black")))

fig.update_layout(
    width=2092, height=2493,
    margin=dict(l=233, r=56, t=24, b=258),
    plot_bgcolor="white", paper_bgcolor="white",
    showlegend=False,
    annotations=annotations,
    xaxis=dict(range=[30, 80], showgrid=False, zeroline=False,
               showline=True, mirror=True, linecolor="black", linewidth=6,
               ticks="inside", tick0=30, dtick=10, ticklen=71, tickwidth=5, tickcolor="black",
               minor=dict(dtick=2, ticks="inside", ticklen=38, tickwidth=5, tickcolor="black"),
               ticklabelstandoff=35,
               tickfont=dict(family="Liberation Sans, Arial, sans-serif", size=64, color="black")),
    yaxis=dict(range=[0, 2211], showgrid=False, zeroline=False, showticklabels=False,
               showline=True, mirror=True, linecolor="black", linewidth=6, ticks=""),
)

fig.write_html("out.html")
